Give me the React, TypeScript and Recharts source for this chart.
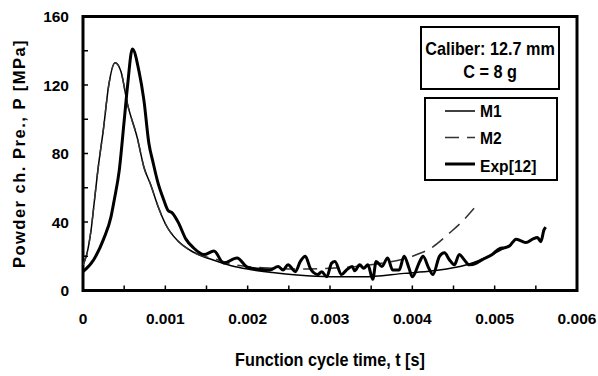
import { LineChart, Line, XAxis, YAxis, ReferenceArea } from "recharts";

// M1 model
const m1Time = [0, 0.00005, 0.0001, 0.00014, 0.00018, 0.00025, 0.00031, 0.00039, 0.00046, 0.00054, 0.00066, 0.00074, 0.00082, 0.00092, 0.001, 0.00115, 0.0013, 0.0014, 0.0016, 0.0018, 0.002, 0.0023, 0.0026, 0.003, 0.0034, 0.0039, 0.00425, 0.00466, 0.00497, 0.0052];
const m1Pressure = [15, 22, 36, 53, 70, 95, 119, 133, 128, 109, 89, 72, 62, 48, 39, 29, 23.5, 21, 17.5, 14.5, 12.5, 10.5, 9, 8, 8, 10, 11.5, 15, 21, 27];

// M2 model
const m2Time = [0, 0.00005, 0.0001, 0.00014, 0.00018, 0.00025, 0.00031, 0.00039, 0.00046, 0.00054, 0.00066, 0.00074, 0.00082, 0.00092, 0.001, 0.00115, 0.0013, 0.0014, 0.0016, 0.0018, 0.002, 0.0023, 0.0026, 0.003, 0.0034, 0.0037, 0.004, 0.00425, 0.00445, 0.0046, 0.00475];
const m2Pressure = [15, 22, 36, 53, 70, 95, 119, 133, 128, 109, 89, 72, 62, 48, 39, 29, 23.5, 21, 18.5, 15.5, 14, 13, 12.5, 13, 14.5, 16.5, 20, 25.5, 33.5, 40, 48];

// experiment
const expTime = [0, 0.00013, 0.00025, 0.00034, 0.00038, 0.00044, 0.0005, 0.00054, 0.0006, 0.00068, 0.00074, 0.0008, 0.00085, 0.00091, 0.00098, 0.00103, 0.00109, 0.00116, 0.00125, 0.00134, 0.00147, 0.00159, 0.00171, 0.00187, 0.002, 0.00212, 0.00227, 0.00237, 0.00243, 0.00249, 0.00258, 0.00264, 0.0027, 0.00276, 0.0028, 0.00285, 0.0029, 0.00296, 0.00302, 0.00306, 0.00314, 0.0032, 0.00327, 0.0033, 0.00336, 0.00341, 0.00346, 0.00352, 0.00356, 0.00363, 0.0037, 0.00376, 0.00384, 0.0039, 0.00396, 0.004, 0.00409, 0.00413, 0.0042, 0.00425, 0.00433, 0.00439, 0.00445, 0.00451, 0.00457, 0.00463, 0.00469, 0.00478, 0.00485, 0.00497, 0.00506, 0.00512, 0.00518, 0.00526, 0.00532, 0.00538, 0.00546, 0.00552, 0.00556, 0.0056, 0.00562];
const expPressure = [11, 18, 30, 43, 53, 70, 99, 119, 141, 128, 111, 86, 75, 63, 53, 47, 45, 39.5, 30, 25, 21, 23, 16, 19, 13.5, 12.5, 12, 14, 12, 15, 11, 17, 20, 13, 10.5, 9.3, 11, 8, 16, 17, 9.3, 12, 14, 11.5, 15, 13, 15, 6.5, 17, 14, 19, 12, 12, 20, 13, 8, 17, 20, 13, 9.3, 20, 22, 18, 15, 21, 18, 15, 16, 18, 21, 24.5, 25, 26, 30, 29, 28, 30, 31, 28.5, 35.5, 37];

const xTicks = [0, 0.0005, 0.001, 0.0015, 0.002, 0.0025, 0.003, 0.0035, 0.004, 0.0045, 0.005, 0.0055, 0.006];
const xLabels = ["0", "", "0.001", "", "0.002", "", "0.003", "", "0.004", "", "0.005", "", "0.006"];
const yTicks = [0, 20, 40, 60, 80, 100, 120, 140, 160];
const yLabels = ["0", "", "40", "", "80", "", "120", "", "160"];

const seriesNames = ["M1", "M2", "Exp[12]"];
const noteLines = ["Caliber: 12.7 mm", "C = 8 g"];

const FONT = '"Liberation Sans", Arial, sans-serif';

const toPoints = (t: number[], p: number[]) => t.map((v, i) => ({ t: v, p: p[i] }));

const series = [
  { name: seriesNames[0], data: toPoints(m1Time, m1Pressure), color: "#000", width: 1.5, dash: undefined },
  { name: seriesNames[1], data: toPoints(m2Time, m2Pressure), color: "#333", width: 1.5, dash: "14 8" },
  { name: seriesNames[2], data: toPoints(expTime, expPressure), color: "#000", width: 3, dash: undefined },
];

function XTick(props: any) {
  const { x, y, index } = props;
  const label = xLabels[index];
  if (!label) return <g />;
  return (
    <text x={x} y={y} dy="0.71em" textAnchor="middle" fontFamily={FONT} fontWeight="bold" fontSize={15.5} fill="#000">
      {label}
    </text>
  );
}

function YTick(props: any) {
  const { x, y, index } = props;
  const label = yLabels[index];
  if (!label) return <g />;
  return (
    <text x={x} y={y} dy="0.355em" textAnchor="end" fontFamily={FONT} fontWeight="bold" fontSize={15.5} fill="#000">
      {label}
    </text>
  );
}

export default function App() {
  return (
    <div style={{ position: "absolute", left: 0, top: 0, width: 598, height: 376, background: "#fff" }}>
      <LineChart width={598} height={376} margin={{ top: 16.5, right: 21, left: 0, bottom: 0 }}>
        <XAxis
          dataKey="t"
          type="number"
          domain={[0, 0.006]}
          ticks={xTicks}
          interval={0}
          height={85.5}
          axisLine={false}
          tickLine={{ stroke: "#000", strokeWidth: 1.5 }}
          tickSize={-5}
          tickMargin={27.5}
          tick={XTick}
          allowDataOverflow
        />
        <YAxis
          type="number"
          domain={[0, 160]}
          ticks={yTicks}
          interval={0}
          width={83}
          axisLine={false}
          tickLine={{ stroke: "#000", strokeWidth: 1.5 }}
          tickSize={-5}
          tickMargin={19}
          tick={YTick}
          allowDataOverflow
        />
        <ReferenceArea x1={0} x2={0.006} y1={0} y2={160} fill="none" stroke="#000" strokeWidth={3} ifOverflow="visible" />
        {series.map((s) => (
          <Line
            key={s.name}
            data={s.data}
            dataKey="p"
            name={s.name}
            type="monotone"
            stroke={s.color}
            strokeWidth={s.width}
            strokeDasharray={s.dash}
            dot={false}
            activeDot={false}
            isAnimationActive={false}
          />
        ))}
      </LineChart>
      <svg width={598} height={376} style={{ position: "absolute", left: 0, top: 0, pointerEvents: "none" }}>
        <g fontFamily={FONT} fontWeight="bold" fill="#000">
          <text transform="translate(25,153.5) rotate(-90)" textAnchor="middle" fontSize={16.5} letterSpacing={1.5}>
            Powder ch. Pre., P [MPa]
          </text>
          <text transform="translate(330,366) scale(0.9,1)" textAnchor="middle" fontSize={18}>
            Function cycle time, t [s]
          </text>
          <rect x={421} y={27} width={138} height={62} fill="#fff" stroke="#000" strokeWidth={2} />
          {noteLines.map((line, i) => (
            <text key={line} transform={`translate(490,${55 + i * 23.3}) scale(0.9,1)`} textAnchor="middle" fontSize={18}>
              {line}
            </text>
          ))}
          <rect x={425} y={98} width={132} height={82} fill="#fff" stroke="#000" strokeWidth={2} />
          {series.map((s, i) => (
            <g key={s.name}>
              <line
                x1={445}
                x2={475}
                y1={111 + i * 26.5}
                y2={111 + i * 26.5}
                stroke={s.color}
                strokeWidth={s.width}
                strokeDasharray={s.dash}
              />
              <text transform={`translate(480,${116.7 + i * 27.5}) scale(0.92,1)`} fontSize={17}>
                {s.name}
              </text>
            </g>
          ))}
        </g>
      </svg>
    </div>
  );
}
